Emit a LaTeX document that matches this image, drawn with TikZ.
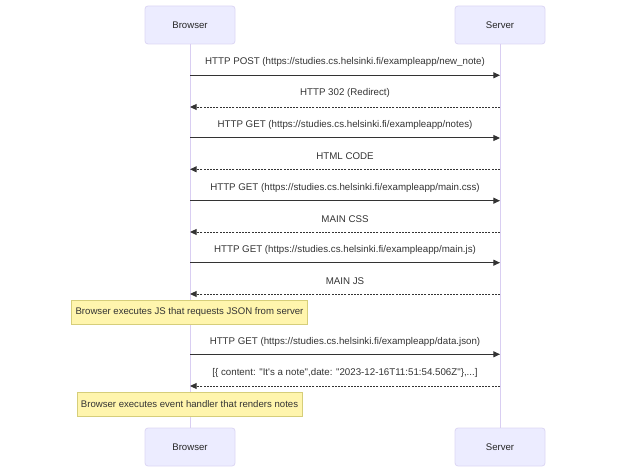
\documentclass[tikz,border=0pt]{standalone}
\usepackage{fontspec}
\setmainfont{Liberation Sans}[Ligatures=TeXOff]
\usepackage{tikz}
\usetikzlibrary{arrows.meta}

\definecolor{actorfill}{HTML}{ECECFF}
\definecolor{actorline}{HTML}{DCD6F4}
\definecolor{lifeline}{HTML}{D9CEF2}
\definecolor{notefill}{HTML}{FFF5AD}
\definecolor{noteline}{HTML}{D6CE7A}
\definecolor{msgcol}{HTML}{333333}

\tikzset{
  actorbox/.style={draw=actorline, fill=actorfill, rounded corners=2.25pt, line width=0.6pt,
    minimum width=67.5pt, minimum height=28.5pt, inner sep=0pt, text=black!85,
    font=\fontsize{7.2}{8}\selectfont},
  notebox/.style={draw=noteline, fill=notefill, line width=0.6pt, minimum height=18pt,
    inner xsep=3pt, inner ysep=0pt, text=msgcol, font=\fontsize{7.2}{8}\selectfont},
  msg/.style={text=msgcol, inner sep=0pt, font=\fontsize{7.3}{8}\selectfont},
  callarrow/.style={draw=msgcol, line width=0.75pt, -{Triangle[length=5pt,width=4.5pt]}},
  replyarrow/.style={draw=msgcol, line width=0.7pt, dash pattern=on 1.5pt off 0.9pt,
    -{Triangle[length=5pt,width=4.5pt]}},
}

\begin{document}
\begin{tikzpicture}[x=0.75pt,y=0.75pt,yscale=-1,xscale=1]
\useasboundingbox (0,0) rectangle (620,473);

% Actors
\node[actorbox] (browserTop) at (190,25) {Browser};
\node[actorbox] (serverTop) at (500,25) {Server};
\node[actorbox] (browserBot) at (190,447) {Browser};
\node[actorbox] (serverBot) at (500,447) {Server};

% Lifelines
\draw[lifeline, line width=0.75pt] (browserTop.south) -- (browserBot.north);
\draw[lifeline, line width=0.75pt] (serverTop.south) -- (serverBot.north);

% Points on the lifelines
\coordinate (b1) at (190,75.3);  \coordinate (s1) at (500,75.3);
\coordinate (b2) at (190,107);   \coordinate (s2) at (500,107);
\coordinate (b3) at (190,138);   \coordinate (s3) at (500,138);
\coordinate (b4) at (190,169.3); \coordinate (s4) at (500,169.3);
\coordinate (b5) at (190,200.7); \coordinate (s5) at (500,200.7);
\coordinate (b6) at (190,232);   \coordinate (s6) at (500,232);
\coordinate (b7) at (190,262.7); \coordinate (s7) at (500,262.7);
\coordinate (b8) at (190,294);   \coordinate (s8) at (500,294);
\coordinate (b9) at (190,354.3); \coordinate (s9) at (500,354.3);
\coordinate (b10) at (190,386);  \coordinate (s10) at (500,386);

% Messages
\draw[callarrow] (b1) -- (s1) node[msg, midway, yshift=9.9pt] (m1) {HTTP POST (https://studies.cs.helsinki.fi/exampleapp/new\_note)};
\draw[replyarrow] (s2) -- (b2) node[msg, midway, yshift=10.2pt] (m2) {HTTP 302 (Redirect)};
\draw[callarrow] (b3) -- (s3) node[msg, midway, yshift=9.9pt] (m3) {HTTP GET (https://studies.cs.helsinki.fi/exampleapp/notes)};
\draw[replyarrow] (s4) -- (b4) node[msg, midway, yshift=9.9pt] (m4) {HTML CODE};
\draw[callarrow] (b5) -- (s5) node[msg, midway, yshift=9.9pt] (m5) {HTTP GET (https://studies.cs.helsinki.fi/exampleapp/main.css)};
\draw[replyarrow] (s6) -- (b6) node[msg, midway, yshift=9.9pt] (m6) {MAIN CSS};
\draw[callarrow] (b7) -- (s7) node[msg, midway, yshift=9.9pt] (m7) {HTTP GET (https://studies.cs.helsinki.fi/exampleapp/main.js)};
\draw[replyarrow] (s8) -- (b8) node[msg, midway, yshift=9.9pt] (m8) {MAIN JS};
\draw[callarrow] (b9) -- (s9) node[msg, midway, yshift=9.0pt] (m9) {HTTP GET (https://studies.cs.helsinki.fi/exampleapp/data.json)};
\draw[replyarrow] (s10) -- (b10) node[msg, midway, yshift=10.0pt] (m10) {[\{ content: "It's a note",date: "2023-12-16T11:51:54.506Z"\},...]};

% Notes
\node[notebox] (note1) at (189.5,312) {Browser executes JS that requests JSON from server};
\node[notebox] (note2) at (189.5,404) {Browser executes event handler that renders notes};

\end{tikzpicture}
\end{document}
